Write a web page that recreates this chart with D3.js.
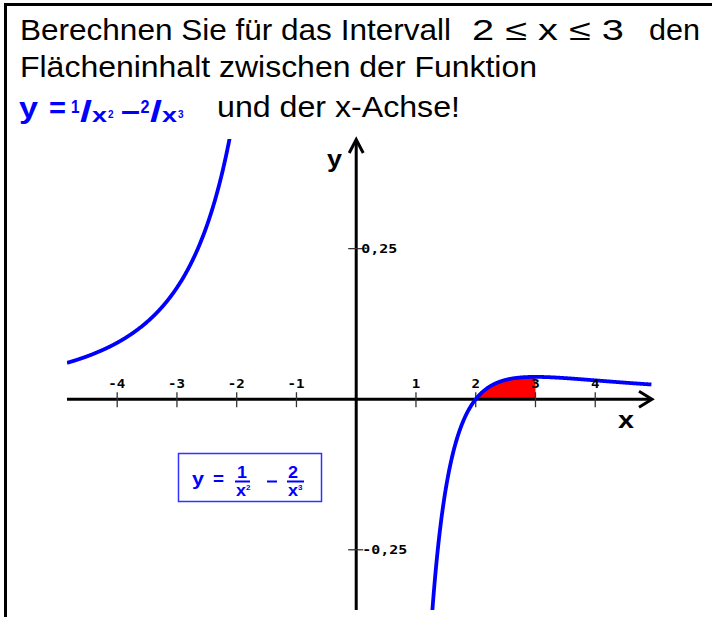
<!DOCTYPE html>
<html>
<head>
<meta charset="utf-8">
<script src="https://cdn.jsdelivr.net/npm/d3@7"></script>
<style>
  html, body { margin: 0; padding: 0; background: #fff; }
  svg { display: block; }
  .sans { font-family: "Liberation Sans", Arial, sans-serif; }
  .mono { font-family: "DejaVu Sans Mono", monospace; font-weight: bold; }
</style>
</head>
<body>
<svg id="chart" width="712" height="617"></svg>
<script>
// Function shown: y = 1/x² − 2/x³
const fn = x => 1 / (x * x) - 2 / (x * x * x);

// Plot window (function units)
const xDomain = [-4.84, 4.95];
const yDomain = [-0.35, 0.432];

// Tick values and labels
const xTicks = [-4, -3, -2, -1, 1, 2, 3, 4];
const xTickLabels = ["-4", "-3", "-2", "-1", "1", "2", "3", "4"];
const yTicks = [0.25, -0.25];
const yTickLabels = ["0,25", "-0,25"];

// Branches of the curve (either side of the pole at x = 0) and the shaded interval
const leftBranch = [-4.84, -2.0];
const rightBranch = [1.15, 4.94];
const shadeInterval = [2, 3];

// Heading text
const titleLine1 = ["Berechnen Sie für das Intervall", "2 ≤ x ≤ 3", "den"];
const titleLine2 = "Flächeninhalt zwischen der Funktion";
const titleLine3 = "und der x-Achse!";

const svg = d3.select("#chart");
const blue = "#0000ff";

// squeeze/stretch a text element to a given advance width
function fitTo(sel, w) {
  return sel.attr("textLength", w).attr("lengthAdjust", "spacingAndGlyphs");
}

const x = d3.scaleLinear().domain(xDomain).range([67, 652]);
const y = d3.scaleLinear().domain(yDomain).range([610, 139]);

// frame lines (top and left)
svg.append("line").attr("x1", 4).attr("x2", 712).attr("y1", 4.5).attr("y2", 4.5)
  .attr("stroke", "#000").attr("stroke-width", 3);
svg.append("line").attr("x1", 5.5).attr("x2", 5.5).attr("y1", 3).attr("y2", 617)
  .attr("stroke", "#000").attr("stroke-width", 3);

// heading text
const head = svg.append("g").attr("class", "sans").attr("font-size", 29).attr("fill", "#000");
fitTo(head.append("text").attr("x", 20).attr("y", 40).text(titleLine1[0]), 431);
fitTo(head.append("text").attr("x", 472).attr("y", 40).text(titleLine1[1]), 152);
fitTo(head.append("text").attr("x", 649).attr("y", 40).text(titleLine1[2]), 51);
fitTo(head.append("text").attr("x", 20).attr("y", 77).text(titleLine2), 517);
fitTo(head.append("text").attr("x", 217).attr("y", 117).text(titleLine3), 243);

// inline formula y = ¹/x² – ²/x³
const f = svg.append("g").attr("class", "sans").attr("fill", blue).attr("font-weight", "bold");
fitTo(f.append("text").attr("x", 19).attr("y", 118).attr("font-size", 30).text("y"), 19);
fitTo(f.append("text").attr("x", 49).attr("y", 118).attr("font-size", 30).text("="), 17);
fitTo(f.append("text").attr("x", 71).attr("y", 113).attr("font-size", 18).text("1"), 8.5);
fitTo(f.append("text").attr("x", 80).attr("y", 122).attr("font-size", 30).text("/"), 12);
fitTo(f.append("text").attr("x", 92).attr("y", 122).attr("font-size", 21).text("x"), 15);
f.append("text").attr("x", 108).attr("y", 117.5).attr("font-size", 10).text("2");
fitTo(f.append("text").attr("x", 121).attr("y", 121).attr("font-size", 29).text("–"), 19);
fitTo(f.append("text").attr("x", 140.5).attr("y", 113).attr("font-size", 18).text("2"), 9);
fitTo(f.append("text").attr("x", 150).attr("y", 122).attr("font-size", 30).text("/"), 12);
fitTo(f.append("text").attr("x", 162).attr("y", 122).attr("font-size", 21).text("x"), 15);
f.append("text").attr("x", 178).attr("y", 117.5).attr("font-size", 10).text("3");

// clip for the curve
svg.append("defs").append("clipPath").attr("id", "plotclip")
  .append("rect").attr("x", 67).attr("y", 139).attr("width", 652 - 67).attr("height", 610 - 139);

// shaded area between curve and x-axis
const shadeX = d3.range(shadeInterval[0], shadeInterval[1] + 1e-9, 0.01);
svg.append("path")
  .datum(shadeX)
  .attr("fill", "#ff0000")
  .attr("d", d3.area().x(d => x(d)).y0(y(0)).y1(d => y(fn(d))));

// axes
const axes = svg.append("g").attr("stroke", "#000");
axes.append("line").attr("x1", x(xDomain[0])).attr("x2", 651).attr("y1", y(0)).attr("y2", y(0)).attr("stroke-width", 3);
axes.append("path").attr("d", `M${652 - 13},${y(0) - 8}L652,${y(0)}L${652 - 13},${y(0) + 8}`)
  .attr("fill", "none").attr("stroke-width", 3).attr("stroke-linejoin", "miter");
axes.append("line").attr("x1", x(0)).attr("x2", x(0)).attr("y1", 140).attr("y2", 610).attr("stroke-width", 3);
axes.append("path").attr("d", `M${x(0) - 7},153L${x(0)},139.5L${x(0) + 7},153`)
  .attr("fill", "none").attr("stroke-width", 3).attr("stroke-linejoin", "miter");

// ticks
axes.selectAll(".xt").data(xTicks).join("line")
  .attr("x1", d => x(d)).attr("x2", d => x(d)).attr("y1", y(0) - 7).attr("y2", y(0) + 8)
  .attr("stroke", "#333").attr("stroke-width", 1.3);
axes.selectAll(".yt").data(yTicks).join("line")
  .attr("x1", x(0) - 8).attr("x2", x(0) + 7).attr("y1", d => y(d)).attr("y2", d => y(d))
  .attr("stroke", "#333").attr("stroke-width", 1.3);

// curve
const line = d3.line().x(d => x(d)).y(d => y(fn(d)));
const curve = svg.append("g").attr("clip-path", "url(#plotclip)");
[leftBranch, rightBranch].forEach(b => {
  const pts = d3.range(b[0], b[1] + 1e-9, 0.005);
  curve.append("path").datum(pts)
    .attr("fill", "none").attr("stroke", blue).attr("stroke-width", 3.8)
    .attr("stroke-linecap", "butt").attr("d", line);
});

// tick labels
svg.selectAll(".xl").data(xTicks).join("text")
  .attr("class", "mono").attr("font-size", 11.5)
  .attr("text-anchor", "middle")
  .attr("x", d => x(d) + (d < 0 ? -0.5 : 0)).attr("y", y(0) - 11)
  .attr("textLength", (d, i) => xTickLabels[i].length * 8.5).attr("lengthAdjust", "spacingAndGlyphs")
  .text((d, i) => xTickLabels[i]);
svg.selectAll(".yl").data(yTicks).join("text")
  .attr("class", "mono").attr("font-size", 11.5)
  .attr("x", d => x(0) + (d < 0 ? 6 : 5)).attr("y", d => y(d) + 4.5)
  .attr("textLength", (d, i) => yTickLabels[i].length * 9).attr("lengthAdjust", "spacingAndGlyphs")
  .text((d, i) => yTickLabels[i]);

// axis names
fitTo(svg.append("text").attr("class", "sans").attr("font-weight", "bold").attr("font-size", 24)
  .attr("x", 327).attr("y", 167).text("y"), 15);
fitTo(svg.append("text").attr("class", "sans").attr("font-weight", "bold").attr("font-size", 23)
  .attr("x", 618).attr("y", 428).text("x"), 16);

// formula box
const box = svg.append("g").attr("class", "sans").attr("fill", blue).attr("font-weight", "bold");
box.append("rect").attr("x", 178.5).attr("y", 453.5).attr("width", 143).attr("height", 48)
  .attr("fill", "#fff").attr("stroke", "#3333ff").attr("stroke-width", 1.5);
fitTo(box.append("text").attr("x", 192).attr("y", 485).attr("font-size", 19).text("y"), 12);
fitTo(box.append("text").attr("x", 213).attr("y", 485).attr("font-size", 18).text("="), 11);
fitTo(box.append("text").attr("x", 237).attr("y", 478).attr("font-size", 16).text("1"), 10);
box.append("rect").attr("x", 235).attr("y", 480.5).attr("width", 15).attr("height", 2);
fitTo(box.append("text").attr("x", 236).attr("y", 496).attr("font-size", 16).text("x"), 10);
box.append("text").attr("x", 246).attr("y", 490).attr("font-size", 8).text("2");
box.append("rect").attr("x", 267).attr("y", 480.5).attr("width", 10).attr("height", 2);
fitTo(box.append("text").attr("x", 288).attr("y", 478).attr("font-size", 16).text("2"), 10);
box.append("rect").attr("x", 287).attr("y", 480.5).attr("width", 17).attr("height", 2);
fitTo(box.append("text").attr("x", 288).attr("y", 496).attr("font-size", 16).text("x"), 10);
box.append("text").attr("x", 298).attr("y", 490).attr("font-size", 8).text("3");
</script>
</body>
</html>
